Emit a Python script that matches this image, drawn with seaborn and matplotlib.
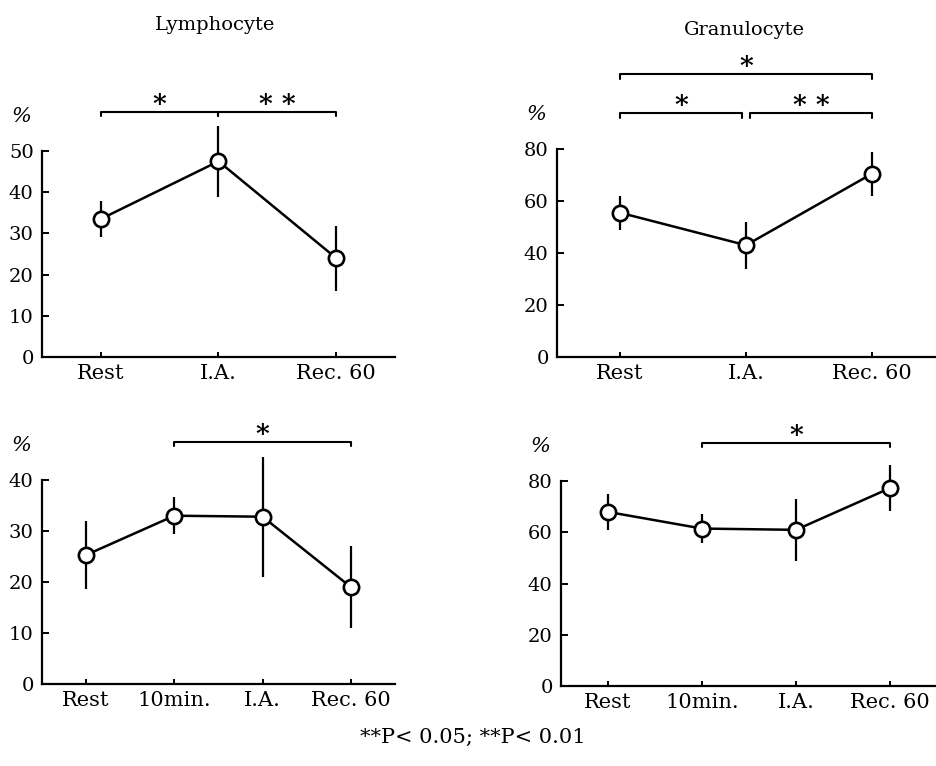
import numpy as np
import pandas as pd
import matplotlib
matplotlib.use("Agg")
import matplotlib.pyplot as plt
import seaborn as sns

# データ（図から読み取った平均値と標準偏差）
cats_top = ["Rest", "I.A.", "Rec. 60"]
cats_bottom = ["Rest", "10min.", "I.A.", "Rec. 60"]

lym_top_mean = [33.5, 47.5, 24.0]
lym_top_sd = [4.3, 8.6, 7.9]
gran_top_mean = [55.5, 43.0, 70.5]
gran_top_sd = [6.5, 9.0, 8.5]

lym_bot_mean = [25.3, 33.0, 32.8, 19.0]
lym_bot_sd = [6.6, 3.6, 11.8, 8.0]
gran_bot_mean = [68.0, 61.5, 61.0, 77.3]
gran_bot_sd = [7.0, 5.5, 12.0, 9.0]

lym_top_ticks = [0, 10, 20, 30, 40, 50]
gran_ticks = [0, 20, 40, 60, 80]
lym_bot_ticks = [0, 10, 20, 30, 40]

sns.set_theme(style="ticks")
plt.rcParams['font.family'] = ['DejaVu Serif', 'Liberation Serif']
plt.rcParams['axes.unicode_minus'] = False
plt.rcParams['text.color'] = 'black'
plt.rcParams['xtick.color'] = 'black'
plt.rcParams['ytick.color'] = 'black'
plt.rcParams['axes.edgecolor'] = 'black'

fig = plt.figure(figsize=(9.37, 7.66), dpi=100)
W, H = 937.0, 766.0


def make_ax(left, right, bottom_px, px_per_unit, ytop, ncat):
    height_px = ytop * px_per_unit
    ax = fig.add_axes([left / W, 1 - bottom_px / H, (right - left) / W, height_px / H])
    ax.set_xlim(-0.5, ncat - 0.5)
    ax.set_ylim(0, ytop)
    return ax


def draw_panel(ax, cats, mean, sd, ticks):
    x = np.arange(len(cats))
    mean = np.asarray(mean)
    sd = np.asarray(sd)
    # 誤差棒（キャップなし）
    ax.vlines(x, mean - sd, mean + sd, color='black', lw=1.6, zorder=2, clip_on=False)
    df = pd.DataFrame({'x': x, 'y': mean})
    sns.lineplot(data=df, x='x', y='y', ax=ax, color='black', linewidth=1.8,
                 marker='o', markersize=11, markerfacecolor='white',
                 markeredgecolor='black', markeredgewidth=1.9, zorder=3)
    ax.set_xticks(x)
    ax.set_xticklabels(cats, fontsize=15)
    ax.set_yticks(ticks)
    ax.set_yticklabels([str(t) for t in ticks], fontsize=14)
    ax.set_xlabel('')
    ax.set_ylabel('')
    for s in ['top', 'right']:
        ax.spines[s].set_visible(False)
    ax.spines['left'].set_bounds(0, ticks[-1])
    ax.spines['left'].set_linewidth(1.6)
    ax.spines['bottom'].set_linewidth(1.6)
    ax.tick_params(axis='y', direction='in', length=5, width=1.4, pad=6)
    ax.tick_params(axis='x', direction='in', length=3.5, width=1.4, pad=5)
    ax.annotate('%', xy=(0, ticks[-1]), xycoords=ax.get_yaxis_transform(),
                xytext=(-15, 25), textcoords='offset points', fontsize=15,
                style='italic', ha='center', va='center', annotation_clip=False)
    ax.grid(False)


def bracket(ax, x0, x1, y, label):
    # 有意差の括弧と星印
    dy = ax.get_ylim()[1] * 0.018
    ax.plot([x0, x0, x1, x1], [y - dy, y, y, y - dy], color='black', lw=1.5, clip_on=False)
    if label:
        ax.annotate(label, xy=((x0 + x1) / 2, y), xytext=(0, 0), textcoords='offset points',
                    ha='center', va='baseline', fontsize=19, fontweight='bold',
                    annotation_clip=False)


# 上段左: Lymphocyte
ax1 = make_ax(42, 395, 357, 4.12, 62, 3)
draw_panel(ax1, cats_top, lym_top_mean, lym_top_sd, lym_top_ticks)
bracket(ax1, 0, 1, 59.5, '*')
bracket(ax1, 1, 2, 59.5, '* *')

# 上段右: Granulocyte
ax2 = make_ax(557, 935, 357, 2.6, 112, 3)
draw_panel(ax2, cats_top, gran_top_mean, gran_top_sd, gran_ticks)
bracket(ax2, 0, 2, 109, '*')
bracket(ax2, 0, 0.97, 94, '*')
bracket(ax2, 1.03, 2, 94, '* *')

# 下段左
ax3 = make_ax(42, 395, 684, 5.1, 48, 4)
draw_panel(ax3, cats_bottom, lym_bot_mean, lym_bot_sd, lym_bot_ticks)
bracket(ax3, 1, 3, 47.5, '*')

# 下段右
ax4 = make_ax(561, 937, 686, 2.56, 97, 4)
draw_panel(ax4, cats_bottom, gran_bot_mean, gran_bot_sd, gran_ticks)
bracket(ax4, 1, 3, 95, '*')

fig.text(215 / W, 1 - 25 / H, 'Lymphocyte', fontsize=14, ha='center', va='center')
fig.text(744 / W, 1 - 30 / H, 'Granulocyte', fontsize=14, ha='center', va='center')
fig.text(473 / W, 1 - 737 / H, '**P< 0.05; **P< 0.01', fontsize=15, ha='center', va='center')

fig.savefig('out.png', dpi=100)
